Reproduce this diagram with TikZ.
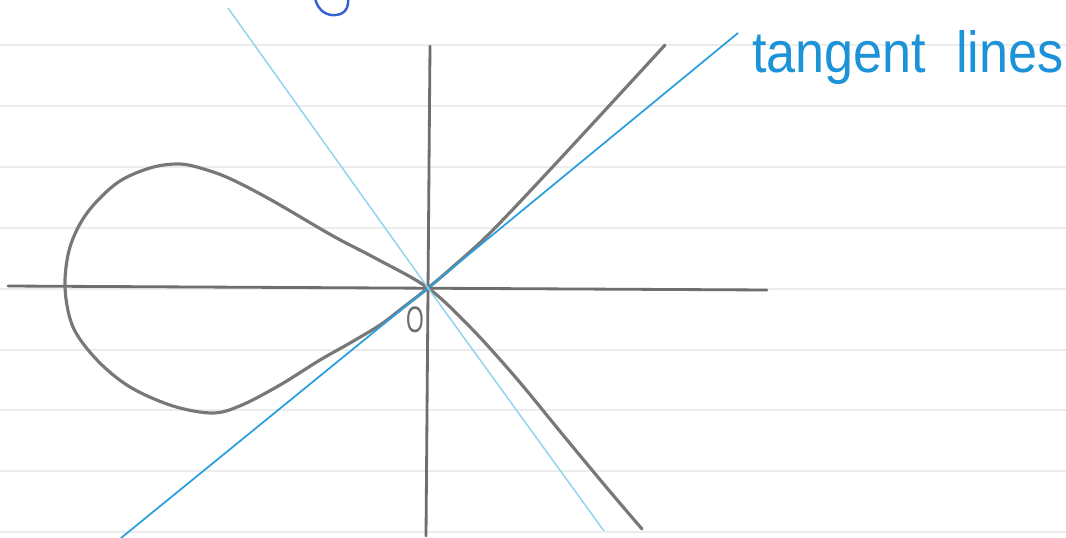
\documentclass[tikz,border=0pt]{standalone}
\usepackage{fontspec}
\newfontfamily\handfont{Liberation Sans}
\definecolor{rulecol}{HTML}{ECECEC}
\definecolor{axiscol}{HTML}{6E6E6E}
\definecolor{curvecol}{HTML}{787878}
\definecolor{tanblue}{HTML}{2AA0DC}
\definecolor{tanlight}{HTML}{8ED3EE}
\definecolor{textblue}{HTML}{1C92D8}
\definecolor{inkdark}{HTML}{3462D0}
\tikzset{
  ruleline/.style={draw=rulecol, line width=1.1pt},
  axisline/.style={draw=axiscol, line width=1.6pt, line cap=round},
  curveline/.style={draw=curvecol, line width=1.8pt, line cap=round, line join=round},
  tanone/.style={draw=tanblue, line width=1.0pt},
  tantwo/.style={draw=tanlight, line width=0.8pt},
  handlabel/.style={text=textblue, inner sep=0pt, anchor=base west, xscale=0.9,
    font=\handfont\fontsize{33}{33}\selectfont},
  originlabel/.style={text=axiscol, inner sep=0pt, xscale=0.62,
    font=\handfont\fontsize{21}{21}\selectfont},
  scribble/.style={draw=inkdark, line width=1.4pt, line cap=round}
}
\begin{document}
\begin{tikzpicture}[x=0.02cm,y=-0.02cm]
\useasboundingbox (0,0) rectangle (1066,538);
\fill[white] (0,0) rectangle (1066,538);
% ruled paper
\foreach \yy in {45,106,167,228,289,350,410,471,532}
  \draw[ruleline] (0,\yy) -- (1066,\yy);
% coordinates
\coordinate (O) at (428,288);
\coordinate (xl) at (8,286);
\coordinate (xr) at (767,290);
\coordinate (yt) at (430,46);
\coordinate (yb) at (426,536);
\coordinate (t1a) at (121,538);
\coordinate (t1b) at (738,33);
\coordinate (t2a) at (228,8);
\coordinate (t2b) at (604,531);
% axes
\draw[axisline] (xl) -- (xr);
\draw[axisline] (yt) -- (yb);
% curve
\draw[curveline] plot[smooth, tension=0.55] coordinates {
  (642,529) (607,488) (563,435) (517,379) (472,329) (O)
  (375,258) (333,236) (273,201) (233,180) (207,170) (180,164) (150,168)
  (117,183) (87,213) (70,247) (65,287) (73,327) (97,360) (130,387)
  (173,406) (213,413) (242,405) (280,385) (320,360) (350,343) (380,325)
  (405,306) (O) (455,265) (492,231) (560,159) (665,45)};
% tangent lines
\draw[tanone] (t1a) -- (O) -- (t1b);
\draw[tantwo] (t2a) -- (O) -- (t2b);
% labels
\node[handlabel] (tl) at (752,72) {tangent\hspace{0.57em}lines};
\node[originlabel] (olab) at (415,320) {O};
% cut-off ink at top
\draw[scribble] (315,-2) .. controls (318,12) and (328,16) .. (336,15)
  .. controls (345,14) and (349,8) .. (348,-2);
\end{tikzpicture}
\end{document}
